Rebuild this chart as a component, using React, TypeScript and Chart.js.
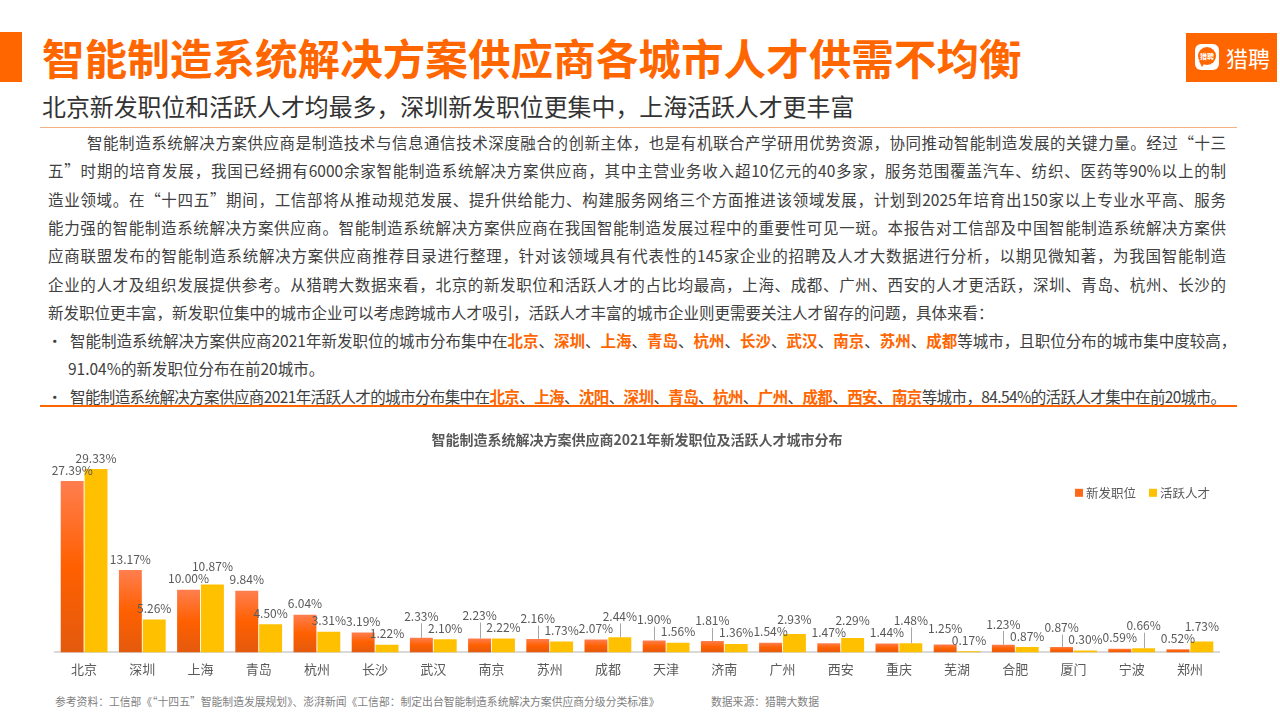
import React, { useEffect, useRef } from "react";
import { Chart, registerables } from "chart.js";

Chart.register(...registerables);

const FONT = '"Noto Sans CJK SC", "Noto Sans", sans-serif';
const ORANGE = "#FF6600";

const chartTitle = "智能制造系统解决方案供应商2021年新发职位及活跃人才城市分布";
const categories = ["北京", "深圳", "上海", "青岛", "杭州", "长沙", "武汉", "南京", "苏州", "成都", "天津", "济南", "广州", "西安", "重庆", "芜湖", "合肥", "厦门", "宁波", "郑州"];
const seriesNames = ["新发职位", "活跃人才"];
const newJobs = [27.39, 13.17, 10.0, 9.84, 6.04, 3.19, 2.33, 2.23, 2.16, 2.07, 1.9, 1.81, 1.54, 1.47, 1.44, 1.25, 1.23, 0.87, 0.59, 0.52];
const activeTalent = [29.33, 5.26, 10.87, 4.5, 3.31, 1.22, 2.1, 2.22, 1.73, 2.44, 1.56, 1.36, 2.93, 2.29, 1.48, 0.17, 0.87, 0.3, 0.66, 1.73];
const seriesColors = ["#FF6A1A", "#FFC000"];

const paraLines = [
  "智能制造系统解决方案供应商是制造技术与信息通信技术深度融合的创新主体，也是有机联合产学研用优势资源，协同推动智能制造发展的关键力量。经过“十三",
  "五”时期的培育发展，我国已经拥有6000余家智能制造系统解决方案供应商，其中主营业务收入超10亿元的40多家，服务范围覆盖汽车、纺织、医药等90%以上的制",
  "造业领域。在“十四五”期间，工信部将从推动规范发展、提升供给能力、构建服务网络三个方面推进该领域发展，计划到2025年培育出150家以上专业水平高、服务",
  "能力强的智能制造系统解决方案供应商。智能制造系统解决方案供应商在我国智能制造发展过程中的重要性可见一斑。本报告对工信部及中国智能制造系统解决方案供",
  "应商联盟发布的智能制造系统解决方案供应商推荐目录进行整理，针对该领域具有代表性的145家企业的招聘及人才大数据进行分析，以期见微知著，为我国智能制造",
  "企业的人才及组织发展提供参考。从猎聘大数据来看，北京的新发职位和活跃人才的占比均最高，上海、成都、广州、西安的人才更活跃，深圳、青岛、杭州、长沙的",
  "新发职位更丰富，新发职位集中的城市企业可以考虑跨城市人才吸引，活跃人才丰富的城市企业则更需要关注人才留存的问题，具体来看：",
];
const bullet1Cities = ["北京", "深圳", "上海", "青岛", "杭州", "长沙", "武汉", "南京", "苏州", "成都"];
const bullet2Cities = ["北京", "上海", "沈阳", "深圳", "青岛", "杭州", "广州", "成都", "西安", "南京"];

function orangeGradient(ctx: any) {
  const chart = ctx.chart;
  const y = chart.scales && chart.scales.y;
  if (!y || ctx.type !== "data") return "#FF6600";
  const v = ctx.raw as number;
  const top = y.getPixelForValue(v);
  const base = y.getPixelForValue(0);
  if (!isFinite(top) || !isFinite(base) || base - top < 1) return "#FF6600";
  const g = chart.ctx.createLinearGradient(0, top, 0, base);
  g.addColorStop(0, "#FF7E4F");
  g.addColorStop(0.5, "#FF6000");
  g.addColorStop(1, "#E35A0E");
  return g;
}

const valueLabelPlugin = {
  id: "valueLabels",
  afterDatasetsDraw(chart: any) {
    const ctx = chart.ctx;
    const m0 = chart.getDatasetMeta(0);
    const m1 = chart.getDatasetMeta(1);
    ctx.save();
    ctx.font = `12px ${FONT}`;
    ctx.fillStyle = "#595959";
    ctx.textAlign = "center";
    ctx.textBaseline = "middle";
    ctx.strokeStyle = "#A6A6A6";
    ctx.lineWidth = 1;
    const n = chart.data.labels.length;
    for (let i = 0; i < n; i++) {
      const bars = [m0.data[i], m1.data[i]];
      const vals = [chart.data.datasets[0].data[i], chart.data.datasets[1].data[i]];
      const ys = bars.map((b: any) => b.y - 11);
      const hi = vals[0] >= vals[1] ? 0 : 1;
      const lo = 1 - hi;
      if (ys[lo] - ys[hi] < 12) ys[hi] = ys[lo] - 12;
      for (let k = 0; k < 2; k++) {
        const b = bars[k];
        if (b.y - ys[k] > 19) {
          ctx.beginPath();
          ctx.moveTo(Math.round(b.x) + 0.5, b.y);
          ctx.lineTo(Math.round(b.x) + 0.5, ys[k] + 7);
          ctx.stroke();
        }
        ctx.fillText(vals[k].toFixed(2) + "%", b.x, ys[k]);
      }
    }
    ctx.restore();
  },
};

const legendPlugin = {
  id: "cornerLegend",
  afterDraw(chart: any) {
    const { ctx, chartArea } = chart;
    ctx.save();
    ctx.font = `12.5px ${FONT}`;
    ctx.textBaseline = "middle";
    ctx.textAlign = "left";
    const box = 8;
    const gap = 3;
    const between = 13;
    const items = chart.data.datasets.map((d: any, i: number) => ({ label: d.label, color: seriesColors[i], w: ctx.measureText(d.label).width }));
    let total = 0;
    items.forEach((it: any, i: number) => {
      total += box + gap + it.w + (i > 0 ? between : 0);
    });
    let x = chartArea.right - 9 - total;
    const y = chartArea.top + 28;
    items.forEach((it: any, i: number) => {
      if (i > 0) x += between;
      ctx.fillStyle = it.color;
      ctx.fillRect(x, y - box / 2, box, box);
      x += box + gap;
      ctx.fillStyle = "#595959";
      ctx.fillText(it.label, x, y);
      x += it.w;
    });
    ctx.restore();
  },
};

function BarChart() {
  const ref = useRef<HTMLCanvasElement | null>(null);
  useEffect(() => {
    if (!ref.current) return;
    const chart = new Chart(ref.current, {
      type: "bar",
      data: {
        labels: categories,
        datasets: [
          { label: seriesNames[0], data: newJobs, backgroundColor: orangeGradient as any, borderWidth: 0 },
          { label: seriesNames[1], data: activeTalent, backgroundColor: seriesColors[1], borderWidth: 0 },
        ],
      },
      options: {
        animation: false,
        responsive: false,
        maintainAspectRatio: false,
        layout: { padding: { left: 15, right: 21, top: 0, bottom: 0 } },
        datasets: { bar: { categoryPercentage: 0.82, barPercentage: 0.96 } } as any,
        plugins: {
          legend: { display: false },
          tooltip: { enabled: false },
          title: {
            display: true,
            text: chartTitle,
            color: "#595959",
            font: { family: FONT, size: 14, weight: "bold" },
            padding: { top: 6, bottom: 17 },
          },
        },
        scales: {
          x: {
            grid: { display: false, drawTicks: false },
            border: { display: true, color: "#D9D9D9", width: 2 },
            ticks: { color: "#595959", font: { family: FONT, size: 13 }, padding: 9, maxRotation: 0, autoSkip: false },
          },
          y: { display: false, min: 0, max: 30 },
        },
      },
      plugins: [valueLabelPlugin, legendPlugin],
    });
    return () => chart.destroy();
  }, []);
  return <canvas ref={ref} width={1200} height={261} style={{ position: "absolute", left: 40, top: 425, width: 1200, height: 261, display: "block" }} />;
}

const lineCenters = [142, 170.3, 198.6, 226.9, 255.2, 283.5, 311.8, 340.1, 368.4, 396.2];

function PLine(props: { idx: number; left: number; right: number; justify?: boolean; children: any; style?: any }) {
  const top = lineCenters[props.idx] - 14;
  return (
    <div
      style={{
        position: "absolute",
        top,
        left: props.left,
        width: props.right - props.left,
        height: 28,
        lineHeight: "28px",
        fontSize: 15.5,
        color: "#404040",
        whiteSpace: "nowrap",
        textAlign: props.justify ? "justify" : "left",
        textAlignLast: props.justify ? "justify" : "left",
        ...(props.style || {}),
      } as any}
    >
      {props.children}
    </div>
  );
}

function Cities(props: { list: string[] }) {
  const out: any[] = [];
  props.list.forEach((c, i) => {
    if (i > 0) out.push(<span key={"s" + i}>、</span>);
    out.push(
      <b key={"c" + i} style={{ color: ORANGE, fontWeight: 700 }}>
        {c}
      </b>
    );
  });
  return <>{out}</>;
}

export default function App() {
  return (
    <div style={{ position: "absolute", left: 0, top: 0, width: 1280, height: 720, background: "#fff", overflow: "hidden", fontFamily: FONT }}>
      <div style={{ position: "absolute", left: 0, top: 32, width: 22, height: 50, background: ORANGE }} />
      <div style={{ position: "absolute", left: 42, top: 27, height: 60, lineHeight: "60px", fontSize: 42.6, fontWeight: 700, color: ORANGE, whiteSpace: "nowrap" }}>
        智能制造系统解决方案供应商各城市人才供需不均衡
      </div>
      <div style={{ position: "absolute", left: 1186, top: 33, width: 91, height: 49, background: ORANGE }}>
        <div style={{ position: "absolute", left: 9, top: 11, width: 24, height: 26, borderRadius: 6, background: "#fff" }}>
          <div style={{ position: "absolute", left: 3, top: 3, width: 18, height: 18, borderRadius: 9, background: ORANGE, color: "#fff", fontSize: 7, lineHeight: "18px", textAlign: "center", fontWeight: 700 }}>猎聘</div>
          <div style={{ position: "absolute", left: 4, top: 17, width: 0, height: 0, borderLeft: "3px solid transparent", borderRight: "4px solid transparent", borderTop: "6px solid " + ORANGE }} />
        </div>
        <div style={{ position: "absolute", left: 40, top: 9, fontSize: 22, lineHeight: "30px", color: "#fff", whiteSpace: "nowrap" }}>猎聘</div>
      </div>
      <div style={{ position: "absolute", left: 42, top: 91, lineHeight: "30px", fontSize: 23.9, color: "#333", whiteSpace: "nowrap" }}>
        北京新发职位和活跃人才均最多，深圳新发职位更集中，上海活跃人才更丰富
      </div>
      <div style={{ position: "absolute", left: 40, top: 127, width: 1197, height: 1, background: "#F4B183" }} />

      <PLine idx={0} left={87} right={1226} justify>{paraLines[0]}</PLine>
      <PLine idx={1} left={48} right={1226} justify>{paraLines[1]}</PLine>
      <PLine idx={2} left={48} right={1226} justify>{paraLines[2]}</PLine>
      <PLine idx={3} left={48} right={1226} justify>{paraLines[3]}</PLine>
      <PLine idx={4} left={48} right={1226} justify>{paraLines[4]}</PLine>
      <PLine idx={5} left={48} right={1226} justify>{paraLines[5]}</PLine>
      <PLine idx={6} left={48} right={1226}>{paraLines[6]}</PLine>
      <PLine idx={7} left={47} right={60}>•</PLine>
      <PLine idx={7} left={70} right={1226} justify>
        智能制造系统解决方案供应商2021年新发职位的城市分布集中在<Cities list={bullet1Cities} />等城市，且职位分布的城市集中度较高，
      </PLine>
      <PLine idx={8} left={68} right={1226}>91.04%的新发职位分布在前20城市。</PLine>
      <PLine idx={9} left={47} right={60}>•</PLine>
      <PLine idx={9} left={70} right={1226} style={{ letterSpacing: -0.6 }}>
        智能制造系统解决方案供应商2021年活跃人才的城市分布集中在<Cities list={bullet2Cities} />等城市，84.54%的活跃人才集中在前20城市。
      </PLine>
      <div style={{ position: "absolute", left: 40, top: 405, width: 1197, height: 2, background: ORANGE }} />

      <BarChart />

      <div style={{ position: "absolute", left: 55, top: 693, fontSize: 10.8, lineHeight: "16px", color: "#7F7F7F", whiteSpace: "nowrap" }}>
        参考资料：工信部《“十四五”智能制造发展规划》、澎湃新闻《工信部：制定出台智能制造系统解决方案供应商分级分类标准》
      </div>
      <div style={{ position: "absolute", left: 711, top: 693, fontSize: 10.8, lineHeight: "16px", color: "#7F7F7F", whiteSpace: "nowrap" }}>
        数据来源：猎聘大数据
      </div>
    </div>
  );
}
